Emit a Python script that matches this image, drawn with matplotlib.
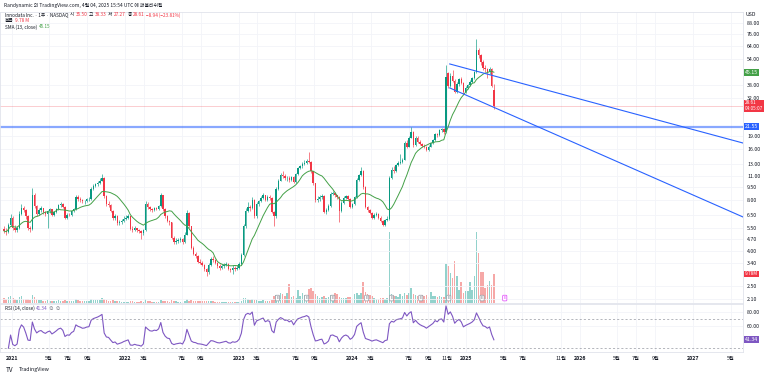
import numpy as np
import pandas as pd
import matplotlib
matplotlib.use('Agg')
import matplotlib.pyplot as plt
import matplotlib.dates as mdates
import matplotlib.transforms as mtrans
from matplotlib.ticker import FixedLocator, FixedFormatter, NullLocator

plt.rcParams['font.family'] = ['Noto Sans CJK KR', 'DejaVu Sans']

# weekly candles, INOD, first week starting 2020-12-07
first_week = '2020-12-07'

opens = [
    5.40, 5.25, 5.15, 5.70, 6.30, 5.50, 5.35, 5.45, 6.60, 7.20,
    7.00, 6.40, 5.45, 5.40, 8.60, 7.40, 6.60, 7.00, 7.15, 6.80,
    6.60, 6.90, 7.05, 6.55, 6.80, 7.10, 7.45, 7.60, 7.30, 6.30,
    6.55, 6.50, 6.90, 7.10, 8.30, 8.10, 8.00, 7.85, 7.90, 8.05,
    8.10, 9.30, 9.70, 9.90, 10.10, 10.40, 10.80, 8.40, 7.60, 7.50,
    6.90, 6.30, 6.40, 5.85, 5.95, 6.05, 6.20, 6.30, 6.40, 5.40,
    5.35, 5.45, 5.30, 5.25, 5.10, 5.30, 7.60, 7.30, 7.05, 7.00,
    7.15, 7.10, 7.35, 8.50, 7.10, 6.40, 6.00, 5.90, 4.80, 4.50,
    4.60, 4.65, 4.70, 4.50, 5.00, 6.70, 5.60, 4.20, 3.85, 3.75,
    3.45, 3.40, 3.30, 3.15, 3.00, 3.30, 3.60, 3.55, 3.40, 3.25,
    3.20, 3.25, 3.30, 3.35, 3.15, 3.10, 3.20, 3.15, 3.20, 3.35,
    3.80, 5.60, 6.90, 7.30, 7.20, 8.00, 6.40, 7.60, 7.90, 8.20,
    8.50, 8.00, 8.30, 8.20, 6.80, 6.40, 9.30, 10.40, 11.20, 11.00,
    10.70, 10.80, 10.50, 10.90, 10.20, 11.30, 12.30, 12.60, 13.00, 13.20,
    13.60, 13.40, 11.80, 10.00, 8.00, 8.10, 8.30, 8.40, 6.80, 7.00,
    7.40, 8.70, 8.80, 8.50, 8.30, 6.90, 7.70, 8.20, 8.40, 8.10,
    7.30, 7.60, 8.30, 10.50, 11.20, 11.80, 9.50, 7.30, 7.00, 6.70,
    6.30, 6.50, 6.60, 6.30, 6.00, 5.70, 6.10, 6.20, 10.80, 12.00,
    11.80, 12.80, 13.20, 13.40, 13.80, 17.30, 16.50, 18.60, 20.00, 16.80,
    18.50, 17.60, 17.00, 16.60, 16.30, 15.80, 16.50, 17.20, 18.00, 19.50,
    19.20, 20.50, 20.80, 20.00, 44.50, 37.50, 43.00, 40.00, 34.50, 38.50,
    41.00, 39.00, 34.50, 36.50, 38.00, 39.50, 41.50, 45.00, 61.00, 57.00,
    52.00, 47.80, 47.00, 45.00, 47.00, 35.50,
]

highs = [
    5.60, 5.45, 5.85, 6.60, 6.40, 5.70, 5.60, 6.90, 7.60, 7.40,
    7.10, 6.50, 5.60, 9.40, 8.80, 7.50, 7.20, 7.40, 7.20, 6.90,
    7.00, 7.20, 7.10, 6.90, 7.20, 7.60, 7.80, 7.70, 7.40, 6.70,
    6.70, 7.00, 7.20, 8.50, 8.50, 8.30, 8.10, 8.00, 8.20, 8.30,
    9.50, 9.90, 10.10, 10.30, 10.70, 11.40, 10.90, 8.60, 7.90, 7.60,
    7.00, 6.60, 6.50, 6.10, 6.20, 6.40, 6.50, 6.60, 6.45, 5.60,
    5.60, 5.50, 5.40, 5.35, 5.40, 7.90, 7.80, 7.40, 7.20, 7.30,
    7.30, 7.50, 8.80, 8.60, 7.20, 6.50, 6.10, 5.95, 4.90, 4.75,
    4.80, 4.85, 4.75, 5.20, 7.00, 6.80, 5.65, 4.30, 3.95, 3.80,
    3.60, 3.50, 3.35, 3.20, 3.40, 3.70, 3.75, 3.60, 3.45, 3.35,
    3.35, 3.40, 3.45, 3.40, 3.20, 3.30, 3.25, 3.30, 3.45, 3.90,
    5.80, 7.20, 7.80, 7.50, 8.30, 8.10, 7.80, 8.00, 8.40, 8.80,
    8.60, 8.50, 8.50, 8.30, 6.90, 9.50, 10.60, 11.60, 11.80, 11.30,
    11.10, 11.00, 11.10, 11.00, 11.50, 12.50, 12.90, 13.40, 13.80, 14.00,
    15.30, 13.50, 11.90, 10.10, 8.40, 8.60, 8.70, 8.50, 7.20, 7.60,
    8.90, 9.00, 8.90, 8.60, 8.40, 7.90, 8.40, 8.60, 8.50, 8.20,
    7.70, 8.40, 10.70, 11.40, 12.50, 12.00, 9.60, 7.40, 7.10, 6.80,
    6.70, 6.80, 6.70, 6.40, 6.10, 6.20, 6.40, 11.00, 12.50, 12.60,
    13.00, 13.60, 15.00, 14.20, 17.80, 18.00, 19.00, 21.50, 20.30, 19.00,
    18.90, 18.00, 17.40, 17.00, 16.60, 16.80, 17.50, 18.30, 19.80, 19.90,
    20.90, 21.30, 21.20, 50.00, 45.50, 44.50, 46.50, 41.00, 39.50, 42.00,
    42.50, 39.50, 37.50, 38.50, 40.50, 42.50, 46.00, 71.00, 63.00, 58.00,
    53.00, 50.00, 48.00, 48.50, 48.00, 38.33,
]

lows = [
    5.10, 5.00, 5.10, 5.60, 5.30, 5.20, 5.20, 5.40, 6.50, 6.80,
    6.20, 5.30, 5.20, 5.35, 7.20, 6.40, 6.50, 6.80, 6.60, 6.40,
    5.50, 6.70, 6.40, 6.40, 6.70, 7.00, 7.30, 7.20, 6.20, 6.20,
    6.40, 6.45, 6.80, 7.00, 7.90, 7.80, 7.70, 7.60, 7.80, 7.90,
    8.00, 9.10, 9.50, 9.70, 9.90, 10.30, 8.20, 7.40, 7.30, 6.80,
    6.10, 6.10, 5.70, 5.70, 5.80, 5.95, 6.10, 6.20, 5.30, 5.20,
    5.25, 5.15, 5.10, 4.70, 5.00, 5.25, 7.10, 6.90, 6.80, 6.90,
    6.95, 7.00, 7.30, 6.90, 6.30, 5.90, 5.70, 4.70, 4.40, 4.40,
    4.45, 4.50, 4.40, 4.45, 4.95, 5.50, 4.10, 3.80, 3.65, 3.40,
    3.35, 3.25, 3.05, 2.85, 2.95, 3.25, 3.45, 3.35, 3.20, 3.10,
    3.15, 3.20, 3.25, 3.10, 3.00, 2.95, 3.05, 3.10, 3.15, 3.30,
    3.75, 5.50, 6.80, 6.90, 7.10, 6.30, 6.30, 7.40, 7.80, 8.10,
    7.90, 7.90, 8.00, 6.70, 5.60, 6.30, 9.20, 10.30, 10.80, 10.50,
    10.40, 10.20, 10.40, 10.00, 10.10, 11.20, 12.10, 12.40, 12.80, 13.00,
    13.20, 11.60, 9.80, 7.80, 7.80, 7.90, 8.10, 6.70, 6.60, 6.90,
    7.30, 8.50, 8.30, 8.10, 5.90, 6.80, 7.60, 8.10, 8.00, 7.20,
    7.20, 7.50, 8.20, 10.30, 11.00, 9.30, 7.20, 6.80, 6.60, 6.20,
    6.20, 6.40, 6.20, 5.90, 5.60, 5.65, 6.00, 6.10, 10.60, 11.50,
    11.70, 12.60, 13.00, 13.20, 13.70, 16.20, 16.40, 18.40, 16.50, 16.70,
    17.20, 16.80, 16.40, 16.10, 15.50, 15.60, 16.30, 17.00, 17.80, 18.80,
    19.00, 20.10, 19.60, 19.80, 36.50, 37.00, 39.50, 34.00, 34.00, 37.50,
    38.50, 33.50, 34.00, 36.00, 37.50, 39.00, 41.00, 44.50, 55.00, 50.00,
    46.50, 45.50, 41.50, 44.00, 37.00, 27.27,
]

closes = [
    5.25, 5.15, 5.70, 6.30, 5.50, 5.35, 5.45, 6.60, 7.20, 7.00,
    6.40, 5.45, 5.40, 8.60, 7.40, 6.60, 7.00, 7.15, 6.80, 6.60,
    6.90, 7.05, 6.55, 6.80, 7.10, 7.45, 7.60, 7.30, 6.30, 6.55,
    6.50, 6.90, 7.10, 8.30, 8.10, 8.00, 7.85, 7.90, 8.05, 8.10,
    9.30, 9.70, 9.90, 10.10, 10.40, 10.80, 8.40, 7.60, 7.50, 6.90,
    6.30, 6.40, 5.85, 5.95, 6.05, 6.20, 6.30, 6.40, 5.40, 5.35,
    5.45, 5.30, 5.25, 5.10, 5.30, 7.60, 7.30, 7.05, 7.00, 7.15,
    7.10, 7.35, 8.50, 7.10, 6.40, 6.00, 5.90, 4.80, 4.50, 4.60,
    4.65, 4.70, 4.50, 5.00, 6.70, 5.60, 4.20, 3.85, 3.75, 3.45,
    3.40, 3.30, 3.15, 3.00, 3.30, 3.60, 3.55, 3.40, 3.25, 3.20,
    3.25, 3.30, 3.35, 3.15, 3.10, 3.20, 3.15, 3.20, 3.35, 3.80,
    5.60, 6.90, 7.30, 7.20, 8.00, 6.40, 7.60, 7.90, 8.20, 8.50,
    8.00, 8.30, 8.20, 6.80, 6.40, 9.30, 10.40, 11.20, 11.00, 10.70,
    10.80, 10.50, 10.90, 10.20, 11.30, 12.30, 12.60, 13.00, 13.20, 13.60,
    13.40, 11.80, 10.00, 8.00, 8.10, 8.30, 8.40, 6.80, 7.00, 7.40,
    8.70, 8.80, 8.50, 8.30, 6.90, 7.70, 8.20, 8.40, 8.10, 7.30,
    7.60, 8.30, 10.50, 11.20, 11.80, 9.50, 7.30, 7.00, 6.70, 6.30,
    6.50, 6.60, 6.30, 6.00, 5.70, 6.10, 6.20, 10.80, 12.00, 11.80,
    12.80, 13.20, 13.40, 13.80, 17.30, 16.50, 18.60, 20.00, 16.80, 18.50,
    17.60, 17.00, 16.60, 16.30, 15.80, 16.50, 17.20, 18.00, 19.50, 19.20,
    20.50, 20.80, 20.00, 42.30, 37.50, 43.00, 40.00, 34.50, 38.50, 41.00,
    39.00, 34.50, 36.50, 38.00, 39.50, 41.50, 45.00, 61.00, 57.00, 52.00,
    47.80, 47.00, 45.00, 47.00, 37.55, 28.61,
]

# volume in millions
volumes = [
    1.8, 1.5, 2.0, 2.2, 1.6, 1.2, 1.0, 2.0, 2.4, 1.5,
    1.2, 1.4, 1.0, 2.8, 2.0, 1.2, 1.0, 0.9, 0.8, 0.8,
    1.0, 0.8, 0.7, 0.7, 0.8, 0.9, 0.8, 0.7, 1.0, 0.7,
    0.6, 0.7, 0.7, 1.5, 0.9, 0.7, 0.6, 0.6, 0.6, 0.6,
    1.2, 1.1, 0.9, 0.9, 1.0, 1.6, 1.4, 1.0, 0.8, 0.8,
    0.9, 0.7, 0.8, 0.6, 0.5, 0.5, 0.5, 0.5, 0.8, 0.6,
    0.5, 0.5, 0.5, 0.7, 0.5, 1.5, 0.8, 0.6, 0.5, 0.5,
    0.5, 0.5, 1.0, 0.8, 0.6, 0.6, 0.5, 0.9, 0.8, 0.6,
    0.5, 0.5, 0.5, 0.6, 1.2, 0.8, 1.0, 0.8, 0.6, 0.7,
    0.6, 0.6, 0.7, 0.8, 0.7, 0.8, 0.6, 0.5, 0.5, 0.5,
    0.4, 0.4, 0.5, 0.5, 0.5, 0.5, 0.4, 0.4, 0.5, 0.7,
    1.6, 1.8, 1.5, 1.0, 1.2, 1.0, 0.9, 0.8, 0.8, 0.9,
    0.7, 0.7, 0.7, 1.0, 2.5, 2.8, 2.6, 3.2, 3.0, 2.2,
    3.5, 6.4, 2.0, 2.2, 1.8, 4.4, 2.5, 3.5, 2.8, 2.2,
    4.8, 5.0, 4.2, 3.0, 2.2, 1.8, 2.0, 2.3, 1.8, 2.0,
    2.7, 2.6, 3.3, 3.0, 2.0, 1.8, 1.6, 1.7, 1.9, 2.0,
    1.6, 3.0, 3.3, 2.8, 3.2, 7.0, 3.8, 3.0, 2.8, 2.2,
    1.6, 1.4, 1.5, 1.6, 1.8, 1.4, 1.7, 24.0, 3.0, 2.4,
    2.5, 2.0, 3.0, 2.2, 3.5, 2.6, 3.2, 5.0, 3.0, 2.6,
    2.2, 2.0, 2.8, 2.4, 2.6, 2.0, 3.6, 2.4, 2.2, 2.0,
    2.3, 2.1, 2.0, 13.0, 12.5, 10.0, 8.5, 14.0, 9.0, 4.5,
    7.0, 3.5, 4.0, 4.2, 7.0, 4.5, 9.0, 24.0, 17.0, 10.5,
    10.5, 5.0, 6.0, 7.5, 6.0, 9.78,
]

earnings_past = ['2023-05-05', '2023-08-07', '2023-10-30', '2024-02-16',
                 '2024-05-06', '2024-08-08', '2024-11-06', '2025-02-21']
earnings_next = '2025-05-05'

support_level = 21.55
upper_trend = [('2024-11-09', 50.5), ('2027-06-10', 17.3)]
lower_trend = [('2024-11-09', 36.5), ('2027-06-10', 6.35)]

# labelled price ticks (45, 27, 22, 2.9 sit under the coloured tags)
price_ticks = [88, 76, 64, 54, 38, 32, 19, 16, 13, 11, 9.5, 8, 6.5, 5.5,
               4.7, 4.0, 3.4, 2.5, 2.1]
rsi_ticks = [80, 60]

x_ticks = ['2021-01-01', '2021-05-01', '2021-07-01', '2021-09-01',
           '2022-01-01', '2022-03-01', '2022-07-01', '2022-09-01',
           '2023-01-01', '2023-03-01', '2023-07-01', '2023-09-01',
           '2024-01-01', '2024-03-01', '2024-07-01', '2024-09-01', '2024-11-01',
           '2025-01-01', '2025-05-01', '2025-07-01', '2025-11-01',
           '2026-01-01', '2026-05-01', '2026-07-01', '2026-09-01',
           '2027-01-01', '2027-05-01']
x_labels = ['2021', '5월', '7월', '9월', '2022', '3월', '7월', '9월',
            '2023', '3월', '7월', '9월', '2024', '3월', '7월', '9월', '11월',
            '2025', '5월', '7월', '11월', '2026', '5월', '7월', '9월',
            '2027', '5월']

# colours
UP, DOWN = '#089981', '#f23645'
VUP, VDOWN = '#26a69a', '#ef5350'
TXT = '#131722'
GRID = '#f2f4f9'
BLUE = '#2962ff'
SMA_C = '#43a047'
RSI_C = '#7e57c2'

W, H = 773, 377

df = pd.DataFrame({'o': opens, 'h': highs, 'l': lows, 'c': closes, 'v': volumes})
df.index = pd.date_range(first_week, periods=len(df), freq='7D')
df['sma'] = df['c'].rolling(13, min_periods=1).mean()
delta = df['c'].diff()
gain = delta.clip(lower=0).ewm(alpha=1 / 14, adjust=False).mean()
loss = (-delta.clip(upper=0)).ewm(alpha=1 / 14, adjust=False).mean()
df['rsi'] = 100 - 100 / (1 + gain / loss)

up = df['c'] >= df['o']
dates = mdates.date2num(df.index.to_pydatetime())

fig = plt.figure(figsize=(W / 100, H / 100), dpi=100)
fig.patch.set_facecolor('white')

ax = fig.add_axes([0, 1 - 303 / H, 743 / W, 291 / H])
axr = fig.add_axes([0, 1 - 352 / H, 743 / W, 48 / H], sharex=ax)
axv = ax.twinx()
ax.set_zorder(axv.get_zorder() + 1)
ax.patch.set_visible(False)

# volume overlay
axv.bar(dates, df['v'], width=5, color=np.where(up, VUP, VDOWN), alpha=0.5, lw=0)
axv.set_ylim(0, 98)
axv.set_yticks([])
for s in axv.spines.values():
    s.set_visible(False)

# candles
ccol = np.where(up, UP, DOWN)
ax.vlines(dates, df['l'], df['h'], color=ccol, lw=0.45, zorder=3)
body_lo = np.minimum(df['o'], df['c'])
body_h = np.maximum(np.abs(df['c'] - df['o']), df['c'] * 0.006)
ax.bar(dates, body_h, bottom=body_lo, width=4.6, color=ccol, lw=0, zorder=4)

ax.plot(dates, df['sma'], color=SMA_C, lw=0.7, zorder=5)

ax.set_yscale('log')
ax.set_ylim(1.98, 102.1)
ax.set_xlim(mdates.datestr2num('2020-11-24'), mdates.datestr2num('2027-06-10'))

# lines drawn on chart
ax.axhline(support_level, color=BLUE, lw=1.6, alpha=0.55, zorder=2)
ax.axhline(closes[-1], color=DOWN, lw=0.5, alpha=0.35, zorder=2)
for seg in (upper_trend, lower_trend):
    ax.plot([mdates.datestr2num(seg[0][0]), mdates.datestr2num(seg[1][0])],
            [seg[0][1], seg[1][1]], color=BLUE, lw=0.8, zorder=6)

# earnings markers
tr = mtrans.blended_transform_factory(ax.transData, ax.transAxes)
for d in earnings_past:
    ax.text(mdates.datestr2num(d), 0.017, 'E', transform=tr, ha='center', va='center',
            fontsize=3.0, color='#787b86', zorder=7,
            bbox=dict(boxstyle='round,pad=0.2,rounding_size=0.2', fc='white', ec='#9598a1', lw=0.5))
ax.text(mdates.datestr2num(earnings_next), 0.017, 'E', transform=tr, ha='center', va='center',
        fontsize=3.0, color='#e040fb', zorder=7,
        bbox=dict(boxstyle='round,pad=0.2,rounding_size=0.2', fc='white', ec='#e040fb', lw=0.5))

# axes styling
for a in (ax, axr):
    for s in a.spines.values():
        s.set_color('#e0e3eb')
        s.set_linewidth(0.6)
    a.yaxis.tick_right()
    a.tick_params(axis='both', length=0, labelsize=3.8, labelcolor=TXT, pad=3)
    a.set_xticks([mdates.datestr2num(d) for d in x_ticks])
    a.grid(True, color=GRID, lw=0.6)
    a.set_axisbelow(True)

ax.yaxis.set_major_locator(FixedLocator(price_ticks))
ax.yaxis.set_major_formatter(FixedFormatter([f'{t:.2f}' for t in price_ticks]))
ax.yaxis.set_minor_locator(NullLocator())
ax.tick_params(labelbottom=False)

axr.plot(dates[2:], df['rsi'].iloc[2:], color=RSI_C, lw=0.8)
axr.axhline(70, color='#9598a1', lw=0.5, ls=(0, (3, 3)))
axr.axhline(30, color='#9598a1', lw=0.5, ls=(0, (3, 3)))
axr.set_ylim(24.5, 90.7)
axr.set_yticks(rsi_ticks)
axr.set_yticklabels([f'{t:.2f}' for t in rsi_ticks])
axr.set_xticklabels(x_labels)
for lab in axr.get_xticklabels():
    if lab.get_text().isdigit():
        lab.set_fontweight('bold')


def tag(a, value, text, color, size=3.8):
    a.annotate(text, xy=(1, value), xycoords=('axes fraction', 'data'),
               xytext=(1.5, 0), textcoords='offset points', ha='left', va='center',
               fontsize=size, color='white', zorder=10, annotation_clip=False,
               bbox=dict(boxstyle='square,pad=0.2', fc=color, ec='none'))


tag(ax, df['sma'].iloc[-1], f"{df['sma'].iloc[-1]:.2f}", SMA_C)
tag(ax, closes[-1], f'{closes[-1]:.2f}\n04:05:07', DOWN, size=3.4)
tag(ax, support_level, f'{support_level:.2f}', BLUE)
tag(axv, volumes[-1], f'{volumes[-1]:.2f}M', DOWN, size=3.4)
tag(axr, df['rsi'].iloc[-1], f"{df['rsi'].iloc[-1]:.2f}", RSI_C)

fig.text(746 / W, 1 - 15 / H, 'USD', fontsize=3.8, color=TXT, va='center')

renderer = fig.canvas.get_renderer()


def row(x_px, y_px, parts, size=3.4):
    x = x_px / W
    for txt, col in parts:
        t = fig.text(x, 1 - y_px / H, txt, color=col, fontsize=size, va='center', ha='left')
        bb = t.get_window_extent(renderer=renderer)
        x = bb.x1 / W + 1.5 / W


row(4, 5, [('Randynamic 의 TradingView.com, 4월 04, 2025 15:54 UTC 에 퍼블리쉬됨', TXT)], size=3.5)
chg = closes[-1] - closes[-2]
row(5, 15, [('Innodata Inc. · 1주 · NASDAQ', TXT),
            ('시', TXT), (f'{opens[-1]:.2f}', DOWN),
            ('고', TXT), (f'{highs[-1]:.2f}', DOWN),
            ('저', TXT), (f'{lows[-1]:.2f}', DOWN),
            ('종', TXT), (f'{closes[-1]:.2f}', DOWN),
            (f'{chg:.2f} ({chg / closes[-2] * 100:.2f}%)'.replace('-', '−'), DOWN)])
row(5, 21, [('볼륨', TXT), (f'{volumes[-1]:.2f} M', DOWN)])
row(5, 27, [('SMA (13, close)', TXT), (f"{df['sma'].iloc[-1]:.2f}", SMA_C)])
row(5, 308, [('RSI (14, close)', TXT), (f"{df['rsi'].iloc[-1]:.2f}", RSI_C), ('∅  ∅', '#787b86')])
row(6, 370, [('TV', TXT)], size=4.6)
row(19, 370, [('TradingView', TXT)], size=3.8)

fig.savefig('out.png', dpi=100, facecolor='white')
